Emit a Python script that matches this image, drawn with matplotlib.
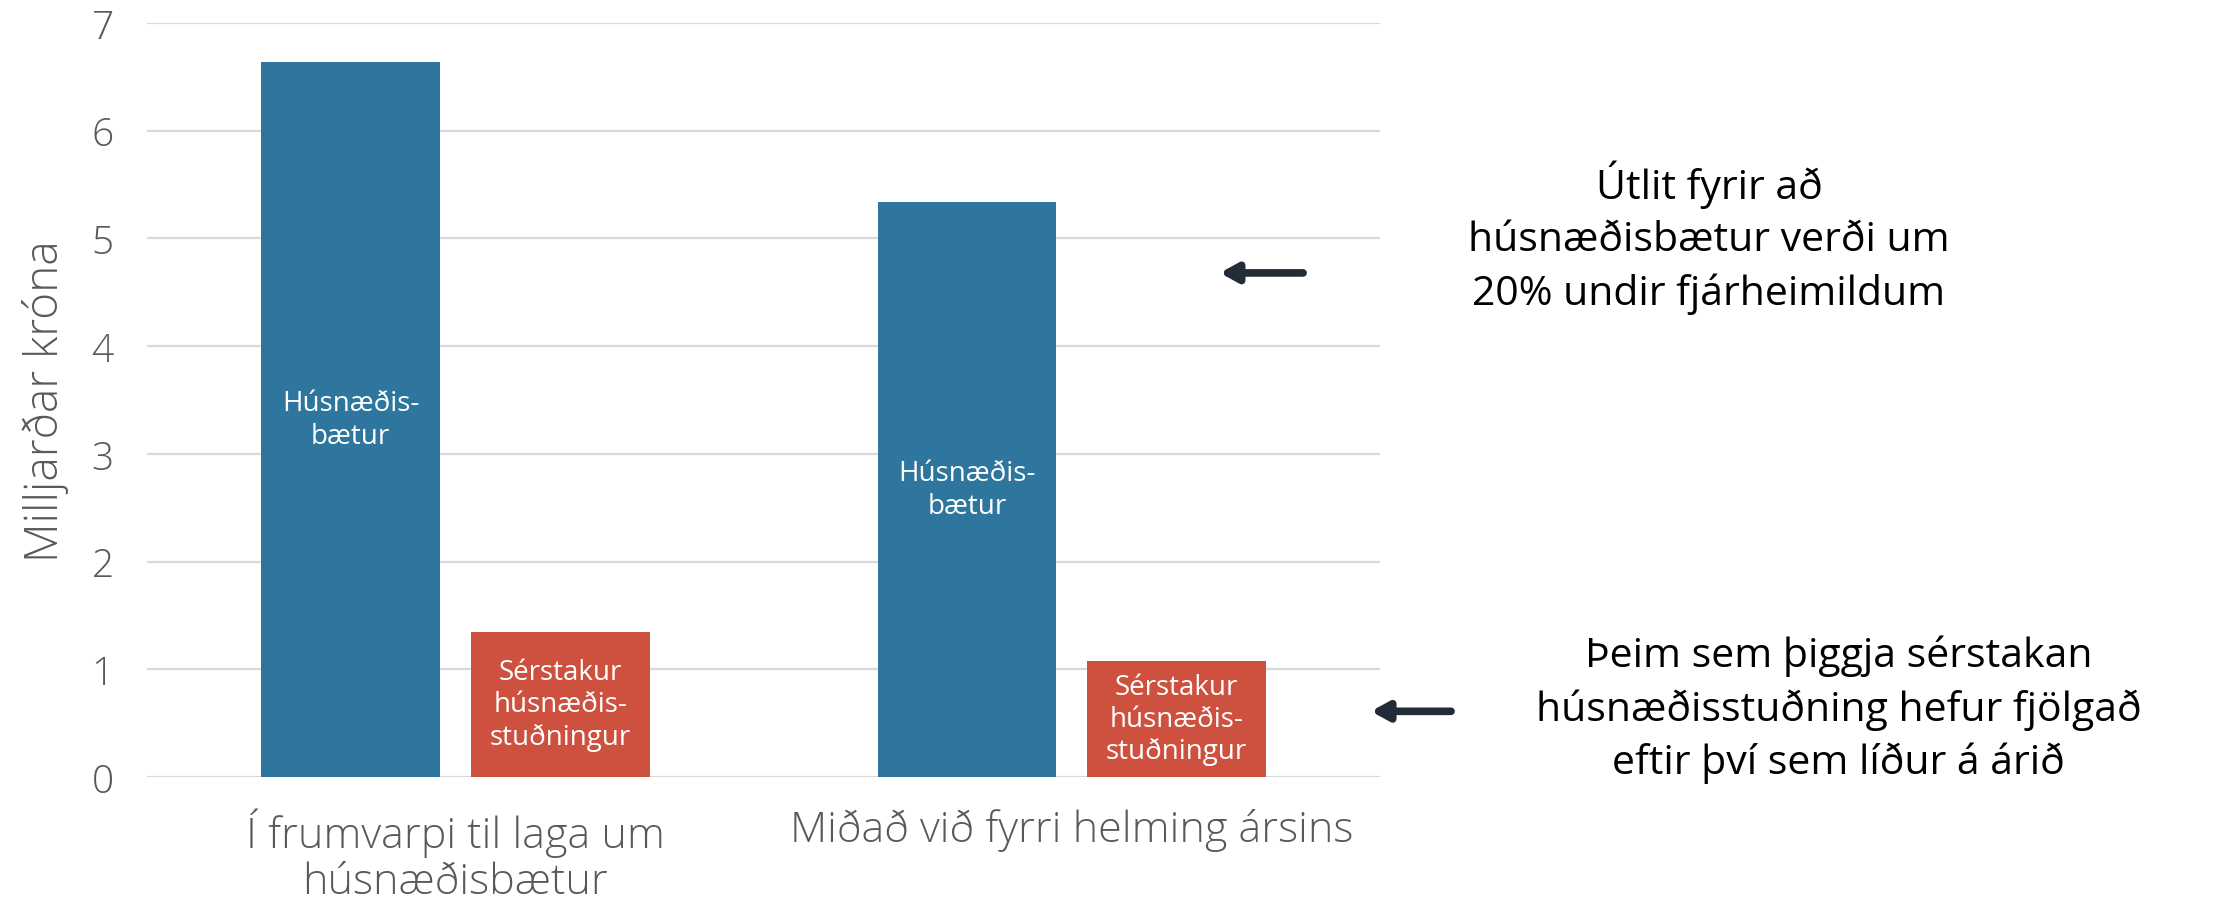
import numpy as np
import matplotlib
matplotlib.use("Agg")
import matplotlib.pyplot as plt

# data (milljarðar króna)
categories = ["Í frumvarpi til laga um\nhúsnæðisbætur", "Miðað við fyrri helming ársins"]
husnaedisbaetur = [6.64, 5.34]
serstakur = [1.35, 1.08]
bar_labels = ["Húsnæðis-\nbætur", "Sérstakur\nhúsnæðis-\nstuðningur"]
yticks = [0, 1, 2, 3, 4, 5, 6, 7]

blue = "#2E769E"
red = "#CE503E"
grey = "#595959"

plt.rcParams['font.family'] = ['Open Sans', 'DejaVu Sans']

fig = plt.figure(figsize=(22.34, 9.03), dpi=100)
ax = fig.add_axes([0.0658, 0.1384, 0.552, 0.835])

x = np.arange(len(categories))
w = 0.29
off = 0.17
b1 = ax.bar(x - off, husnaedisbaetur, w, color=blue, zorder=3)
b2 = ax.bar(x + off, serstakur, w, color=red, zorder=3)

for i in range(len(categories)):
    ax.text(x[i] - off, husnaedisbaetur[i] / 2, bar_labels[0], color="white",
            ha="center", va="center", fontsize=20, linespacing=1.2, zorder=4)
    ax.text(x[i] + off, serstakur[i] / 2, bar_labels[1], color="white",
            ha="center", va="center", fontsize=20, linespacing=1.2, zorder=4)

ax.set_xlim(-0.5, 1.5)
ax.set_ylim(0, 7)
ax.set_yticks(yticks)
ax.set_yticklabels([str(t) for t in yticks], fontsize=28, color=grey, fontweight="light")
ax.set_xticks(x)
ax.set_xticklabels(categories, fontsize=31, color=grey, fontweight="light", linespacing=1.1)
ax.tick_params(length=0)
ax.tick_params(axis="y", pad=24)
ax.tick_params(axis="x", pad=22)
ax.grid(axis="y", color="#D9D9D9", linewidth=1.6, zorder=0)
for s in ax.spines.values():
    s.set_visible(False)
ax.set_ylabel("Milljarðar króna", fontsize=33, color=grey, fontweight="light", labelpad=16)

# arrows and notes
arrow = dict(arrowstyle="-|>,head_length=1.0,head_width=0.55", color="#222B38", lw=5.5,
             shrinkA=0, shrinkB=0)
ax.annotate("", xy=(1.24, 4.68), xytext=(1.375, 4.68), arrowprops=arrow,
            annotation_clip=False)
ax.annotate("", xy=(1.485, 0.61), xytext=(1.615, 0.61), arrowprops=arrow,
            annotation_clip=False)

fig.text(0.765, 0.737, "Útlit fyrir að\nhúsnæðisbætur verði um\n20% undir fjárheimildum",
         ha="center", va="center", fontsize=29.5, linespacing=1.38, color="black")
fig.text(0.823, 0.214, "Þeim sem þiggja sérstakan\nhúsnæðisstuðning hefur fjölgað\neftir því sem líður á árið",
         ha="center", va="center", fontsize=29.5, linespacing=1.38, color="black")

fig.savefig("out.png", dpi=100)
